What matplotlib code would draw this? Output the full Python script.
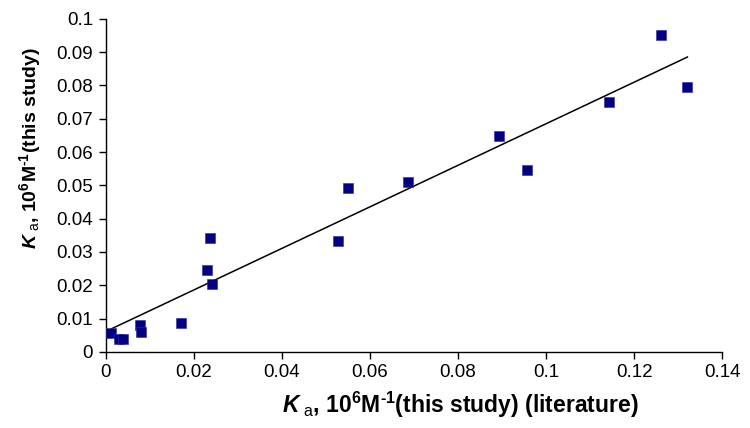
import matplotlib
matplotlib.use('Agg')
import matplotlib.pyplot as plt
import numpy as np

plt.rcParams['font.family'] = ['Liberation Sans', 'DejaVu Sans']
plt.rcParams['mathtext.fontset'] = 'custom'
plt.rcParams['mathtext.rm'] = 'Liberation Sans:bold'
plt.rcParams['mathtext.it'] = 'Liberation Sans:bold:italic'
plt.rcParams['mathtext.bf'] = 'Liberation Sans:bold'
plt.rcParams['mathtext.sf'] = 'Liberation Sans'

# literature Ka vs this-study Ka (10^6 M^-1)
ka_literature = [0.0013, 0.0029, 0.0039, 0.0077, 0.0079, 0.0170, 0.0230, 0.0236, 0.0242,
                 0.0528, 0.0551, 0.0686, 0.0893, 0.0956, 0.1142, 0.1260, 0.1321]
ka_study = [0.0057, 0.0038, 0.0039, 0.0081, 0.0061, 0.0086, 0.0246, 0.0341, 0.0204,
            0.0334, 0.0493, 0.0511, 0.0647, 0.0547, 0.0750, 0.0950, 0.0794]

# trend line
fit_slope = 0.624
fit_intercept = 0.0061

x_ticks = [0, 0.02, 0.04, 0.06, 0.08, 0.1, 0.12, 0.14]
y_ticks = [0, 0.01, 0.02, 0.03, 0.04, 0.05, 0.06, 0.07, 0.08, 0.09, 0.1]

fig = plt.figure(figsize=(7.5, 4.28), dpi=100)
ax = fig.add_axes([0.141, 0.178, 0.822, 0.778])

xs = np.array([min(ka_literature), max(ka_literature)])
ax.plot(xs, fit_intercept + fit_slope * xs, color='black', linewidth=1.1, zorder=2)
ax.scatter(ka_literature, ka_study, marker='s', s=44, color='#000080',
           edgecolors='#2a2aa0', linewidths=0.4, zorder=3)

ax.set_xlim(0, 0.14)
ax.set_ylim(0, 0.1)
ax.set_xticks(x_ticks)
ax.set_yticks(y_ticks)
ax.set_xticklabels(['0' if t == 0 else f'{t:g}' for t in x_ticks])
ax.set_yticklabels(['0' if t == 0 else f'{t:g}' for t in y_ticks])
ax.tick_params(direction='out', length=5, width=1, labelsize=13.5, colors='black', pad=4)

for side in ['top', 'right']:
    ax.spines[side].set_visible(False)
for side in ['left', 'bottom']:
    ax.spines[side].set_linewidth(1)

ax.set_xlabel('$\\mathit{K}_{\\mathsf{\\ a}}$, 10$^{6}$M$^{\u2010 1}$(this study) (literature)',
              fontsize=16.5, fontweight='bold', va='center', ha='center')
ax.xaxis.set_label_coords(0.575, -0.159)
ax.set_ylabel('$\\mathit{K}_{\\mathsf{\\ a}}$, 10$^{6}$M$^{\u2010 1}$(this study)',
              fontsize=14, fontweight='bold', va='center', ha='center')
ax.yaxis.set_label_coords(-0.123, 0.611)

fig.savefig('out.png', dpi=100)
